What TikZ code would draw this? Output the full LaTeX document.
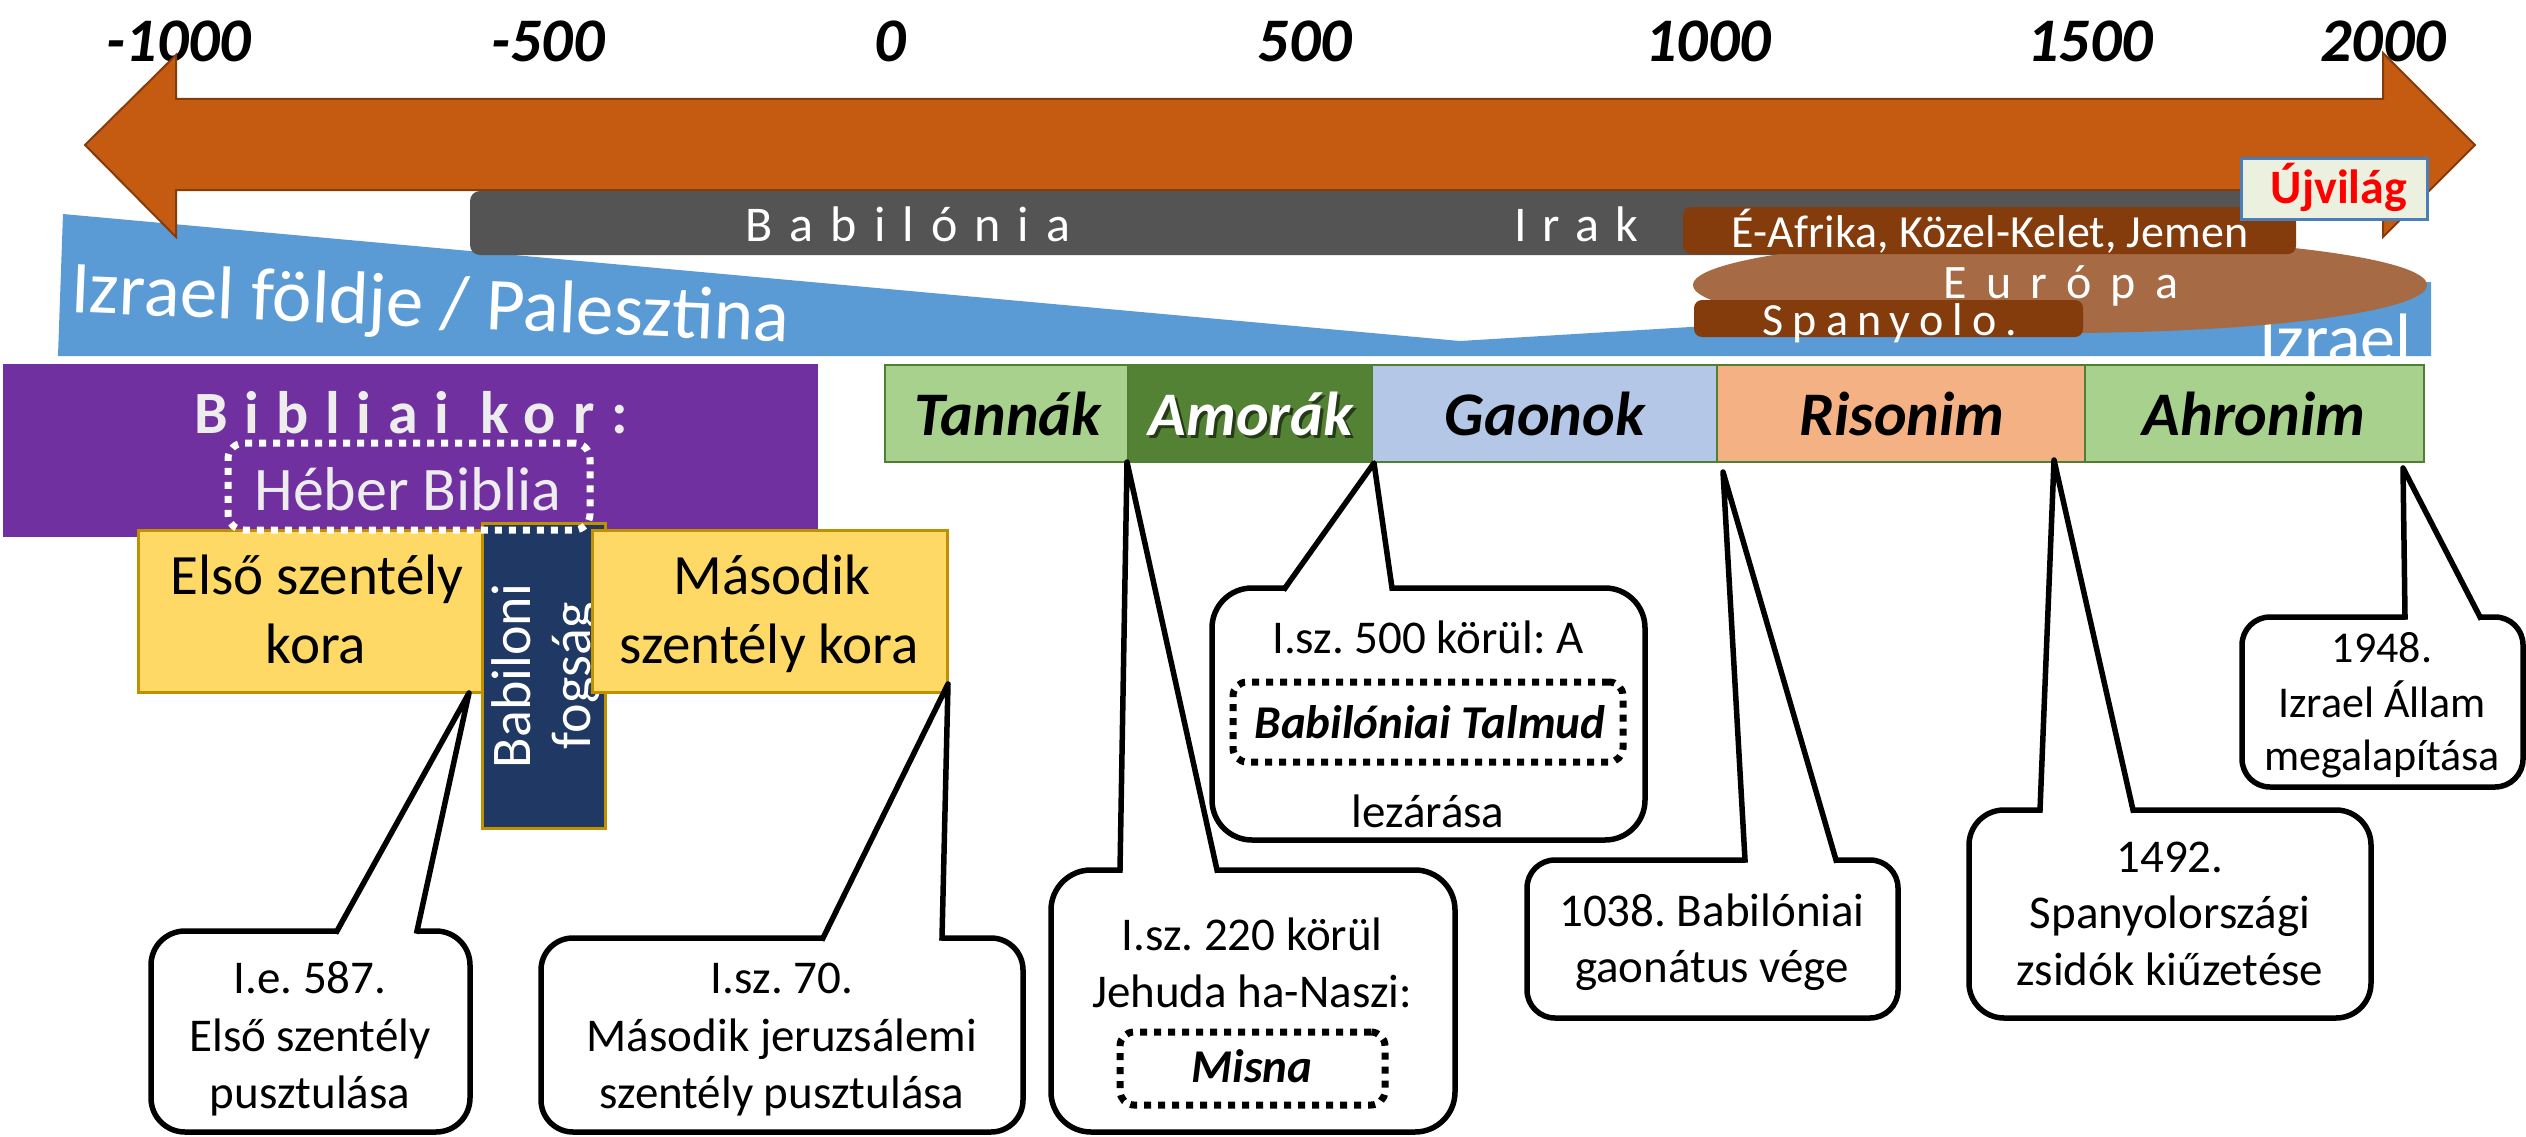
\documentclass[tikz,border=0pt]{standalone}
\usepackage{fontspec}
\setmainfont{Carlito}
\usetikzlibrary{shapes.geometric,calc}
\definecolor{arrowfill}{HTML}{C55A11}
\definecolor{arrowline}{HTML}{843C0C}
\definecolor{greybar}{HTML}{545454}
\definecolor{landblue}{HTML}{5B9BD5}
\definecolor{europa}{HTML}{A66A45}
\definecolor{brownbox}{HTML}{843C0C}
\definecolor{ujfill}{HTML}{EBF1DE}
\definecolor{ujline}{HTML}{4A7EBB}
\definecolor{ujtext}{HTML}{FF0000}
\definecolor{bibpurple}{HTML}{7030A0}
\definecolor{biblight}{HTML}{EDEDED}
\definecolor{templeyellow}{HTML}{FFD966}
\definecolor{templegold}{HTML}{BF9000}
\definecolor{exilenavy}{HTML}{203864}
\definecolor{pgreen}{HTML}{A9D18E}
\definecolor{pdarkgreen}{HTML}{548235}
\definecolor{pblue}{HTML}{B4C7E7}
\definecolor{porange}{HTML}{F4B183}
\definecolor{pborder}{HTML}{507E32}
\tikzset{
  box/.style={anchor=north west, inner sep=0pt, outer sep=0pt},
  txt/.style={anchor=base, inner sep=0pt, outer sep=0pt},
  axislab/.style={txt, font=\fontsize{62pt}{70pt}\selectfont\bfseries\itshape},
  period/.style={box, draw=pborder, line width=2.5pt, minimum height=97pt},
  pername/.style={txt, font=\fontsize{62pt}{70pt}\selectfont\bfseries\itshape},
  callbox/.style={box, draw=black, fill=white, line width=5.5pt},
  ctext/.style={txt, font=\fontsize{47pt}{56pt}\selectfont},
  csmall/.style={txt, font=\fontsize{44pt}{52pt}\selectfont},
  cbold/.style={txt, font=\fontsize{47pt}{56pt}\selectfont\bfseries\itshape},
  dotbox/.style={box, draw=black, line width=7pt, dash pattern=on 7pt off 7pt, rounded corners=14pt},
  wedgeline/.style={draw=black, line width=5.5pt, line join=round, line cap=rect},
  templetext/.style={txt, font=\fontsize{57pt}{66pt}\selectfont},
  whitetext/.style={txt, text=white},
}
\newcommand\calloutwedge[3]{%
  \fill[white] ($(#1)+(0,5)$) -- (#3) -- ($(#2)+(0,5)$) -- cycle;
  \draw[wedgeline] (#1) -- (#3) -- (#2);}
\begin{document}
\frenchspacing
\begin{tikzpicture}[x=1pt,y=-1pt]
\useasboundingbox (0,0) rectangle (2526,1137);
\fill[white] (0,0) rectangle (2526,1137);

% land of Israel
\fill[landblue] (63,214) -- (1460,341) -- (2431,282) -- (2431,356) -- (58,356) -- cycle;
\node[txt, anchor=base west, text=white, rotate=-2.4, font=\fontsize{75pt}{84pt}\selectfont] (land) at (70,312) {Izrael földje / Palesztina};
\begin{scope}
  \clip (63,214) -- (1460,341) -- (2431,282) -- (2431,356) -- (58,356) -- cycle;
  \node[txt, anchor=base west, text=white, font=\fontsize{70pt}{80pt}\selectfont] (izr) at (2259,362) {Izrael};
\end{scope}

% axis labels
\node[axislab] (ym1000) at (179,62) {-1000};
\node[axislab] (ym500) at (548,62) {-500};
\node[axislab] (y0) at (890,62) {0};
\node[axislab] (y500) at (1305,62) {500};
\node[axislab] (y1000) at (1708,62) {1000};
\node[axislab] (y1500) at (2090,62) {1500};
\node[axislab] (y2000) at (2383,62) {2000};

% double arrow
\draw[fill=arrowfill, draw=arrowline, line width=2pt] (85,145) -- (176,55) -- (176,99) -- (2383,99) -- (2383,53) -- (2475,145) -- (2383,237) -- (2383,190) -- (176,190) -- (176,237) -- cycle;

% Babylonia / Iraq
\node[box, fill=greybar, rounded corners=10pt, minimum width=1780pt, minimum height=64pt] (babbar) at (470,191) {};
\node[whitetext, font=\fontsize{50pt}{60pt}\selectfont\addfontfeature{LetterSpace=34}] (babtxt) at (908,241) {Babilónia};
\node[whitetext, font=\fontsize{50pt}{60pt}\selectfont\addfontfeature{LetterSpace=32}] (iraktxt) at (1576,241) {Irak};

% Europe
\node[ellipse, fill=europa, minimum width=734pt, minimum height=96pt, inner sep=0pt] (eur) at (2060,285) {};
\node[whitetext, font=\fontsize{48pt}{58pt}\selectfont\addfontfeature{LetterSpace=40}] (eurtxt) at (2061,298) {Európa};
\node[box, fill=brownbox, rounded corners=8pt, minimum width=613pt, minimum height=47pt] (eafr) at (1683,207) {};
\node[whitetext, font=\fontsize{46pt}{56pt}\selectfont] (eafrtxt) at (1990,247) {É-Afrika, Közel-Kelet, Jemen};
\node[box, fill=brownbox, rounded corners=8pt, minimum width=389pt, minimum height=37pt] (spbox) at (1694,300) {};
\node[whitetext, font=\fontsize{46pt}{56pt}\selectfont\addfontfeature{LetterSpace=20}] (sptxt) at (1890,335) {Spanyolo.};
\node[box, fill=ujfill, draw=ujline, line width=3pt, minimum width=186pt, minimum height=61pt] (ujbox) at (2241,158) {};
\node[txt, text=ujtext, font=\fontsize{48pt}{58pt}\selectfont\bfseries] (ujtxt) at (2339,203) {Újvilág};

% Biblical period
\node[box, fill=bibpurple, minimum width=815pt, minimum height=173pt] (bib) at (3,364) {};
\node[txt, text=biblight, font=\fontsize{60pt}{70pt}\selectfont\bfseries\addfontfeature{LetterSpace=28}] (bibtxt) at (411,433) {Bibliai kor:};
\node[txt, text=biblight, font=\fontsize{62pt}{70pt}\selectfont] (hebtxt) at (408,510) {Héber Biblia};

\node[box, fill=templeyellow, draw=templegold, line width=3pt, minimum width=344pt, minimum height=162pt] (elso) at (138,530) {};
\node[templetext] (elsoa) at (317,594) {Első szentély};
\node[templetext] (elsob) at (316,663) {kora};
\node[box, fill=exilenavy, draw=templegold, line width=3pt, minimum width=123pt, minimum height=305pt] (exile) at (482,523) {};
\node[rotate=90, anchor=center, align=center, text=white, inner sep=0pt, font=\fontsize{56pt}{60pt}\selectfont] (exiletxt) at (546,676) {Babiloni\\fogság};
\node[box, fill=templeyellow, draw=templegold, line width=3pt, minimum width=355pt, minimum height=162pt] (masodik) at (592,530) {};
\node[templetext] (masa) at (772,594) {Második};
\node[templetext] (masb) at (769,663) {szentély kora};
\node[dotbox, draw=white, rounded corners=16pt, minimum width=362pt, minimum height=87pt] (hebbox) at (228,443) {};

% rabbinic periods
\node[period, fill=pgreen, minimum width=243pt] (tannak) at (885,365) {};
\node[period, fill=pdarkgreen, minimum width=244pt] (amorak) at (1128,365) {};
\node[period, fill=pblue, minimum width=345pt] (gaonok) at (1372,365) {};
\node[period, fill=porange, minimum width=368pt] (risonim) at (1717,365) {};
\node[period, fill=pgreen, minimum width=339pt] (ahronim) at (2085,365) {};
\node[pername] (tannaktxt) at (1008,435) {Tannák};
\node[pername, text=black, opacity=0.55] (amorakshadow) at (1254,438) {Amorák};
\node[pername, text=white] (amoraktxt) at (1251,435) {Amorák};
\node[pername] (gaonoktxt) at (1545,435) {Gaonok};
\node[pername] (risonimtxt) at (1902,435) {Risonim};
\node[pername] (ahronimtxt) at (2254,435) {Ahronim};

% callout 1
\node[callbox, rounded corners=34pt, minimum width=319pt, minimum height=201pt] (c1) at (151,931) {};
\coordinate (t1) at (469,693); \coordinate (c1l) at (337,931); \coordinate (c1r) at (417,931);
\calloutwedge{c1l}{c1r}{t1}
\node[ctext] (c1a) at (310,993) {I.e. 587.};
\node[ctext] (c1b) at (310,1051) {Első szentély};
\node[ctext] (c1c) at (310,1108) {pusztulása};

% callout 2
\node[callbox, rounded corners=32pt, minimum width=482pt, minimum height=194pt] (c2) at (541,938) {};
\coordinate (t2) at (948,684); \coordinate (c2l) at (823,938); \coordinate (c2r) at (942,938);
\calloutwedge{c2l}{c2r}{t2}
\node[ctext] (c2a) at (782,993) {I.sz. 70.};
\node[ctext] (c2b) at (782,1051) {Második jeruzsálemi};
\node[ctext] (c2c) at (782,1108) {szentély pusztulása};

% callout 3
\node[callbox, rounded corners=40pt, minimum width=404pt, minimum height=262pt] (c3) at (1051,870) {};
\coordinate (t3) at (1127,462); \coordinate (c3l) at (1120,870); \coordinate (c3r) at (1217,870);
\calloutwedge{c3l}{c3r}{t3}
\node[ctext] (c3a) at (1252,950) {I.sz. 220 körül};
\node[ctext] (c3b) at (1252,1007) {Jehuda ha-Naszi:};
\node[dotbox, minimum width=265pt, minimum height=73pt] (misnabox) at (1120,1032) {};
\node[cbold] (misna) at (1252,1082) {Misna};

% callout 4
\node[callbox, rounded corners=40pt, minimum width=433pt, minimum height=252pt] (c4) at (1212,588) {};
\coordinate (t4) at (1374,463); \coordinate (c4l) at (1285,588); \coordinate (c4r) at (1392,588);
\calloutwedge{c4l}{c4r}{t4}
\node[ctext] (c4a) at (1428,653) {I.sz. 500 körül: A};
\node[dotbox, minimum width=390pt, minimum height=80pt] (talmudbox) at (1233,682) {};
\node[cbold] (talmud) at (1430,738) {Babilóniai Talmud};
\node[ctext] (c4c) at (1428,827) {lezárása};

% callout 5
\node[callbox, rounded corners=28pt, minimum width=371pt, minimum height=158pt] (c5) at (1527,860) {};
\coordinate (t5) at (1723,472); \coordinate (c5l) at (1745,860); \coordinate (c5r) at (1836,860);
\calloutwedge{c5l}{c5r}{t5}
\node[ctext] (c5a) at (1712,926) {1038. Babilóniai};
\node[ctext] (c5b) at (1712,982) {gaonátus vége};

% callout 6
\node[callbox, rounded corners=35pt, minimum width=402pt, minimum height=208pt] (c6) at (1969,810) {};
\coordinate (t6) at (2054,460); \coordinate (c6l) at (2040,810); \coordinate (c6r) at (2133,810);
\calloutwedge{c6l}{c6r}{t6}
\node[ctext] (c6a) at (2170,872) {1492.};
\node[ctext] (c6b) at (2170,928) {Spanyolországi};
\node[ctext] (c6c) at (2170,985) {zsidók kiűzetése};

% callout 7
\node[callbox, rounded corners=28pt, minimum width=281pt, minimum height=170pt] (c7) at (2242,617) {};
\coordinate (t7) at (2403,468); \coordinate (c7l) at (2405,617); \coordinate (c7r) at (2480,617);
\calloutwedge{c7l}{c7r}{t7}
\node[csmall] (c7a) at (2382,662) {1948.};
\node[csmall] (c7b) at (2382,717) {Izrael Állam};
\node[csmall] (c7c) at (2382,770) {megalapítása};
\end{tikzpicture}
\end{document}
